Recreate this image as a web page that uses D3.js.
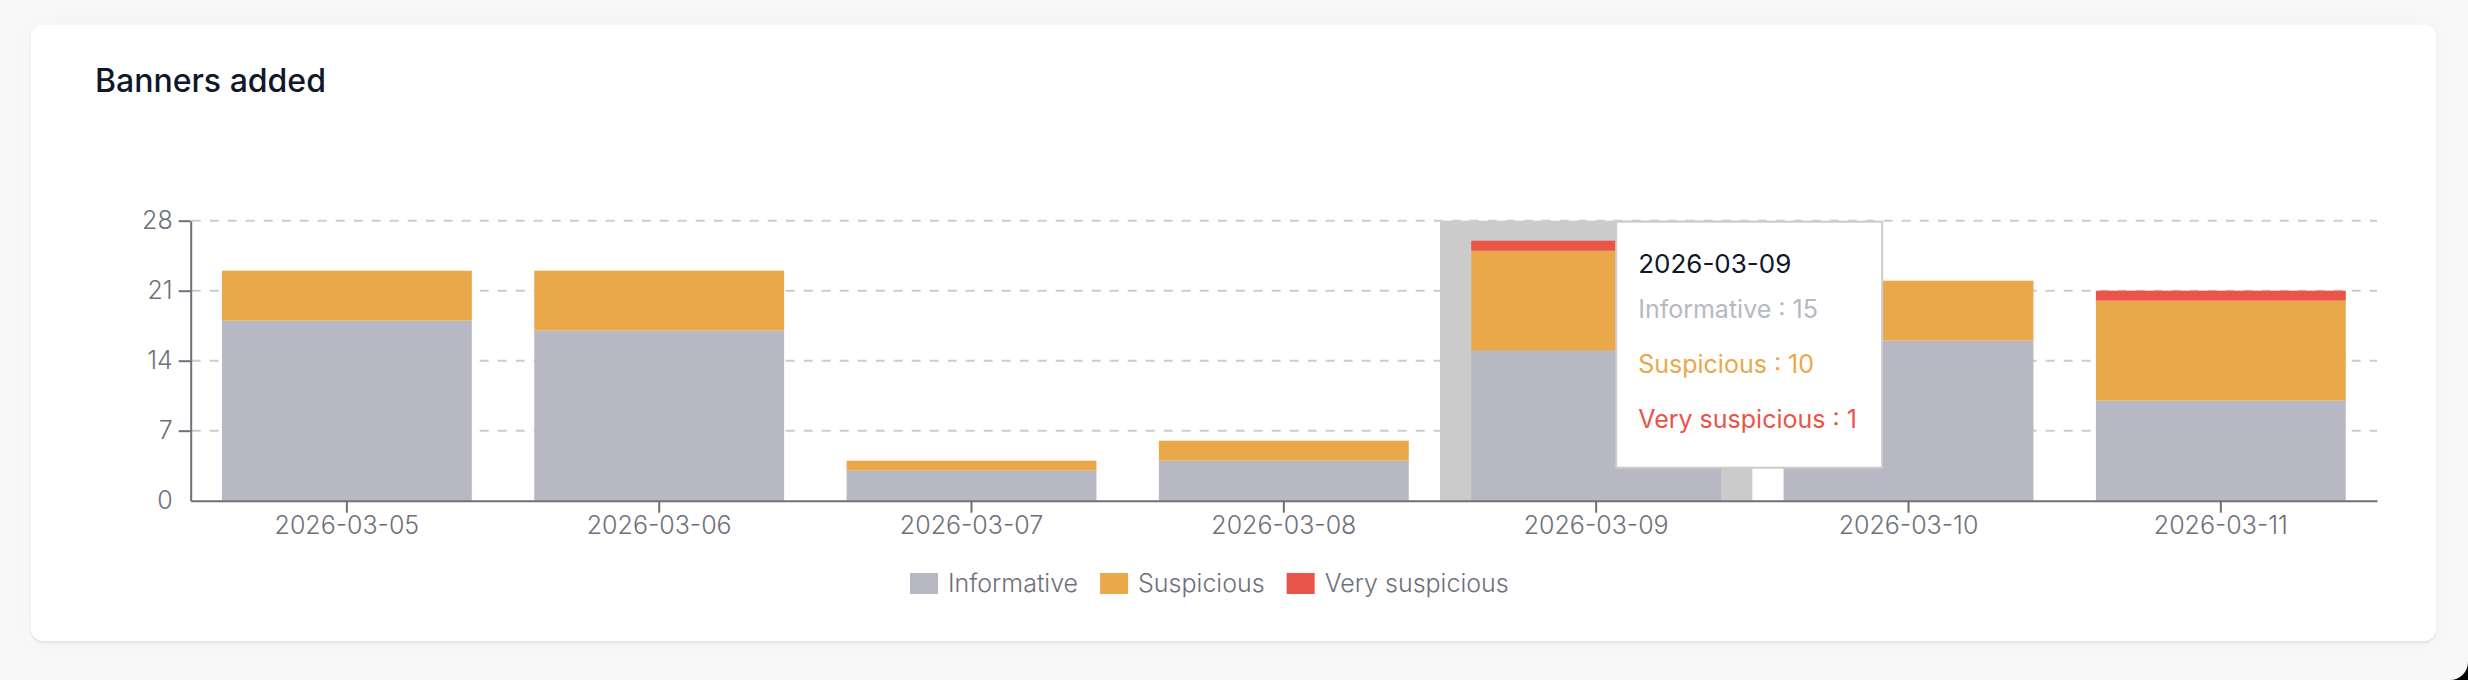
<!DOCTYPE html>
<html>
<head>
    <title>Banners added</title>
    <meta charset="utf-8">
    <style>
        html, body { margin: 0; padding: 0; background: #000; }
        #page {
            position: relative;
            width: 2468px;
            height: 680px;
            background: #f8f8f8;
            border-bottom-right-radius: 18px;
            overflow: hidden;
        }
        #card {
            position: absolute;
            left: 31px;
            top: 25px;
            width: 2405px;
            height: 616px;
            background: #fff;
            border-radius: 12px;
            box-shadow: 0 2px 2px rgba(0,0,0,0.08), 0 0 24px rgba(0,0,0,0.03);
        }
        svg { position: absolute; left: 0; top: 0; }
    </style>
</head>
<body>
<div id="page"><div id="card"></div></div>
<script src="https://cdn.jsdelivr.net/npm/d3@7"></script>
<script>
    var categories = ['2026-03-05', '2026-03-06', '2026-03-07', '2026-03-08', '2026-03-09', '2026-03-10', '2026-03-11'];
    var informative = [18, 17, 3, 4, 15, 16, 10];
    var suspicious = [5, 6, 1, 2, 10, 6, 10];
    var verySuspicious = [0, 0, 0, 0, 1, 0, 1];
    var yTicks = [0, 7, 14, 21, 28];
    var seriesNames = ['Informative', 'Suspicious', 'Very suspicious'];
    var hovered = '2026-03-09';

    var colors = {
        'Informative': '#b8b8c4',
        'Suspicious': '#eaa84a',
        'Very suspicious': '#ea5449'
    };
    var axisColor = '#6e7079';
    var font = 'Inter, "Noto Sans", sans-serif';

    var m = { left: 190.7, right: 2377, top: 220.7, bottom: 500.7 };

    var svg = d3.select('#page').append('svg')
        .attr('width', 2468)
        .attr('height', 680);

    svg.append('text')
        .attr('x', 95)
        .attr('y', 92)
        .attr('font-family', font)
        .attr('font-size', 32)
        .attr('font-weight', 500)
        .attr('fill', '#0f172a')
        .text('Banners added');

    var x = d3.scaleBand()
        .domain(categories)
        .range([m.left, m.right])
        .paddingInner(0.2)
        .paddingOuter(0.1);

    var y = d3.scaleLinear()
        .domain([0, 28])
        .range([m.bottom, m.top]);

    // grid
    svg.append('g').selectAll('line')
        .data(yTicks.filter(function (d) { return d > 0; }))
        .enter().append('line')
        .attr('x1', m.left + 1)
        .attr('x2', m.right)
        .attr('y1', function (d) { return y(d); })
        .attr('y2', function (d) { return y(d); })
        .attr('stroke', '#cccccc')
        .attr('stroke-width', 2)
        .attr('stroke-dasharray', '9 9');

    // hover shadow
    var step = x.step();
    svg.append('rect')
        .attr('x', x(hovered) - step * x.paddingOuter())
        .attr('y', y(28))
        .attr('width', step)
        .attr('height', y(0) - y(28))
        .attr('fill', '#cbcbcb');

    var rows = categories.map(function (c, i) {
        return {
            date: c,
            'Informative': informative[i],
            'Suspicious': suspicious[i],
            'Very suspicious': verySuspicious[i]
        };
    });

    var stacked = d3.stack().keys(seriesNames)(rows);

    svg.append('g').selectAll('g')
        .data(stacked)
        .enter().append('g')
        .attr('fill', function (d) { return colors[d.key]; })
        .selectAll('rect')
        .data(function (d) { return d; })
        .enter().append('rect')
        .attr('x', function (d) { return x(d.data.date); })
        .attr('y', function (d) { return y(d[1]); })
        .attr('width', x.bandwidth())
        .attr('height', function (d) { return y(d[0]) - y(d[1]); });

    // axes
    var xAxis = svg.append('g')
        .attr('transform', 'translate(0,' + m.bottom + ')')
        .call(d3.axisBottom(x).tickSize(12).tickSizeOuter(0).tickPadding(4));

    var yAxis = svg.append('g')
        .attr('transform', 'translate(' + m.left + ',0)')
        .call(d3.axisLeft(y).tickValues(yTicks).tickSize(12).tickSizeOuter(0).tickPadding(6));

    [xAxis, yAxis].forEach(function (a) {
        a.select('.domain').attr('stroke', axisColor).attr('stroke-width', 2);
        a.selectAll('.tick line').attr('stroke', axisColor).attr('stroke-width', 2);
        a.selectAll('.tick text')
            .attr('fill', axisColor)
            .attr('font-family', font)
            .attr('font-size', 25)
            .attr('font-weight', 300);
    });
    yAxis.selectAll('.tick line').filter(function (d) { return d === 0; }).remove();

    // legend
    var legend = svg.append('g');
    var lx = 910;
    seriesNames.forEach(function (name) {
        legend.append('rect')
            .attr('x', lx)
            .attr('y', 573)
            .attr('width', 28)
            .attr('height', 21)
            .attr('fill', colors[name]);
        var t = legend.append('text')
            .attr('x', lx + 38)
            .attr('y', 592)
            .attr('font-family', font)
            .attr('font-size', 25)
            .attr('font-weight', 300)
            .attr('fill', axisColor)
            .text(name);
        lx += 38 + t.node().getComputedTextLength() + 22;
    });

    // tooltip for the hovered day
    var hi = categories.indexOf(hovered);
    var tx = x(hovered) + x.bandwidth() / 2 + 20;
    var ty = y(28) + 1;
    var tip = svg.append('g');
    tip.append('rect')
        .attr('x', tx)
        .attr('y', ty)
        .attr('width', 266)
        .attr('height', 246)
        .attr('fill', '#fff')
        .attr('stroke', '#cccccc')
        .attr('stroke-width', 2);
    tip.append('text')
        .attr('x', tx + 22)
        .attr('y', ty + 51)
        .attr('font-family', font)
        .attr('font-size', 26)
        .attr('fill', '#0f172a')
        .text(hovered);
    var tipValues = [informative[hi], suspicious[hi], verySuspicious[hi]];
    seriesNames.forEach(function (name, i) {
        tip.append('text')
            .attr('x', tx + 22)
            .attr('y', ty + 96 + i * 55)
            .attr('font-family', font)
            .attr('font-size', 25)
            .attr('fill', colors[name])
            .text(name + ' : ' + tipValues[i]);
    });
</script>
</body>
</html>
